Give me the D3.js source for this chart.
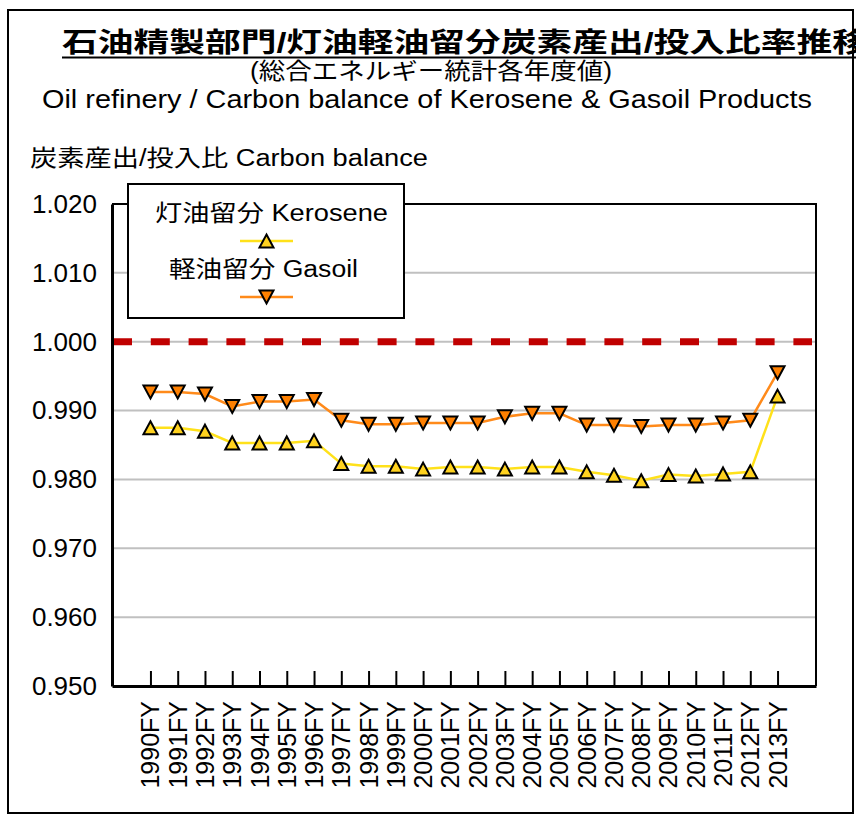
<!DOCTYPE html>
<html>
<head>
<meta charset="utf-8">
<script src="https://cdn.jsdelivr.net/npm/d3@7/dist/d3.min.js"></script>
<style>
  html, body { margin: 0; padding: 0; background: #fff; }
  svg { display: block; }
</style>
</head>
<body>
<script>
// Fiscal years on the category axis
const years = ["1990FY","1991FY","1992FY","1993FY","1994FY","1995FY","1996FY","1997FY",
  "1998FY","1999FY","2000FY","2001FY","2002FY","2003FY","2004FY","2005FY","2006FY",
  "2007FY","2008FY","2009FY","2010FY","2011FY","2012FY","2013FY"];

// Carbon output / input ratio, kerosene fraction
const kerosene = [0.9875, 0.9875, 0.9870, 0.9853, 0.9853, 0.9853, 0.9856, 0.9823,
  0.9819, 0.9819, 0.9815, 0.9818, 0.9818, 0.9815, 0.9818, 0.9818, 0.9811,
  0.9806, 0.9798, 0.9807, 0.9805, 0.9808, 0.9811, 0.9921];

// Carbon output / input ratio, gasoil fraction
const gasoil = [0.9927, 0.9927, 0.9924, 0.9906, 0.9913, 0.9913, 0.9916, 0.9886,
  0.9880, 0.9880, 0.9882, 0.9882, 0.9882, 0.9891, 0.9896, 0.9896, 0.9879,
  0.9879, 0.9877, 0.9879, 0.9879, 0.9882, 0.9886, 0.9955];

const yTicks = [0.950, 0.960, 0.970, 0.980, 0.990, 1.000, 1.010, 1.020];
const referenceLevel = 1.000;

const seriesNames = ["灯油留分 Kerosene", "軽油留分 Gasoil"];

const W = 856, H = 816;
const plot = { left: 112, right: 816, top: 204, bottom: 686 };

const svg = d3.select("body").append("svg")
  .attr("width", W).attr("height", H);

svg.append("rect").attr("width", W).attr("height", H).attr("fill", "#fff");

// Outer frame
svg.append("rect")
  .attr("x", 8).attr("y", 10).attr("width", 845).attr("height", 803)
  .attr("fill", "none").attr("stroke", "#000").attr("stroke-width", 2);

const mixed = "'Liberation Sans', 'Noto Sans CJK JP', sans-serif";

// Titles
svg.append("text")
  .attr("x", 62).attr("y", 52)
  .attr("font-family", mixed).attr("font-weight", "bold").attr("font-size", 27)
  .attr("textLength", 806).attr("lengthAdjust", "spacingAndGlyphs")
  .text("石油精製部門/灯油軽油留分炭素産出/投入比率推移");
svg.append("line")
  .attr("x1", 62).attr("x2", 856).attr("y1", 57.5).attr("y2", 57.5)
  .attr("stroke", "#000").attr("stroke-width", 2);

svg.append("text")
  .attr("x", 250).attr("y", 79)
  .attr("font-family", mixed).attr("font-size", 23)
  .attr("textLength", 362).attr("lengthAdjust", "spacingAndGlyphs")
  .text("(総合エネルギー統計各年度値)");

svg.append("text")
  .attr("x", 42).attr("y", 99)
  .attr("dominant-baseline", "central")
  .attr("font-family", "'Liberation Sans Narrow', 'Liberation Sans', sans-serif").attr("font-size", 26)
  .attr("textLength", 770).attr("lengthAdjust", "spacingAndGlyphs")
  .text("Oil refinery / Carbon balance of Kerosene & Gasoil Products");

svg.append("text")
  .attr("x", 30).attr("y", 158)
  .attr("dominant-baseline", "central")
  .attr("font-family", mixed).attr("font-size", 23)
  .attr("textLength", 398).attr("lengthAdjust", "spacingAndGlyphs")
  .text("炭素産出/投入比 Carbon balance");

// Scales
const x = d3.scalePoint().domain(years).range([plot.left, plot.right]).padding(1.41);
const y = d3.scaleLinear().domain([0.95, 1.02]).range([plot.bottom, plot.top]);

// Horizontal gridlines
svg.append("g").selectAll("line")
  .data(yTicks.filter(t => t > 0.95 && t < 1.02))
  .join("line")
  .attr("x1", plot.left).attr("x2", plot.right)
  .attr("y1", d => y(d)).attr("y2", d => y(d))
  .attr("stroke", "#c0c0c0").attr("stroke-width", 2);

// Reference line at 1.000
svg.append("line")
  .attr("x1", plot.left + 1).attr("x2", plot.right - 4)
  .attr("y1", y(referenceLevel)).attr("y2", y(referenceLevel))
  .attr("stroke", "#c00000").attr("stroke-width", 7)
  .attr("stroke-dasharray", "19 18.8");

// Plot border: top and right thin, axes thick
svg.append("path")
  .attr("d", `M${plot.left},${plot.top}H${plot.right}V${plot.bottom}`)
  .attr("fill", "none").attr("stroke", "#000").attr("stroke-width", 2);

// Y axis
const yAxis = d3.axisLeft(y).tickValues(yTicks).tickSize(0).tickPadding(15)
  .tickFormat(d3.format(".3f"));
const gy = svg.append("g").attr("transform", `translate(${plot.left},0)`).call(yAxis);
gy.select(".domain").attr("stroke", "#000").attr("stroke-width", 3);
gy.selectAll("text")
  .attr("font-family", "'Liberation Sans', sans-serif").attr("font-size", 26)
  .attr("fill", "#000");

// X axis with inward ticks
const xAxis = d3.axisBottom(x).tickSize(-15).tickSizeOuter(0).tickFormat("");
const gx = svg.append("g").attr("transform", `translate(0,${plot.bottom})`).call(xAxis);
gx.select(".domain").attr("stroke", "#000").attr("stroke-width", 3);
gx.selectAll(".tick line").attr("stroke", "#000").attr("stroke-width", 2);

// Rotated category labels
svg.append("g").selectAll("text")
  .data(years)
  .join("text")
  .attr("transform", d => `translate(${x(d)},701) rotate(-90)`)
  .attr("text-anchor", "end")
  .attr("dy", "0.36em")
  .attr("font-family", "'Liberation Sans', sans-serif").attr("font-size", 25)
  .attr("fill", "#000")
  .text(d => d);

// Triangle markers, centred on their bounding box
const mw = 14, mh = 13;
const triUp = `M0,${-mh/2}L${mw/2},${mh/2}L${-mw/2},${mh/2}Z`;
const triDown = `M0,${mh/2}L${mw/2},${-mh/2}L${-mw/2},${-mh/2}Z`;

const series = [
  { name: seriesNames[0], values: kerosene, line: "#ffe11a", fill: "#ffd21f", shape: triUp },
  { name: seriesNames[1], values: gasoil, line: "#ff8a1a", fill: "#ff8000", shape: triDown }
];

const lineGen = d3.line().x((d, i) => x(years[i])).y(d => y(d));

series.forEach(s => {
  svg.append("path")
    .attr("d", lineGen(s.values))
    .attr("fill", "none").attr("stroke", s.line).attr("stroke-width", 2.5);
});
series.forEach(s => {
  svg.append("g").selectAll("path")
    .data(s.values)
    .join("path")
    .attr("transform", (d, i) => `translate(${x(years[i])},${y(d)})`)
    .attr("d", s.shape)
    .attr("fill", s.fill).attr("stroke", "#000").attr("stroke-width", 2)
    .attr("stroke-linejoin", "miter");
});

// Legend
const lg = svg.append("g");
lg.append("rect")
  .attr("x", 128).attr("y", 184).attr("width", 276).attr("height", 134)
  .attr("fill", "#fff").attr("stroke", "#000").attr("stroke-width", 2);

const legendRows = [
  { s: series[0], tx: 155, tw: 233, ty: 213, my: 241 },
  { s: series[1], tx: 169, tw: 189, ty: 269, my: 297 }
];
legendRows.forEach(r => {
  lg.append("text")
    .attr("x", r.tx).attr("y", r.ty)
    .attr("dominant-baseline", "central")
    .attr("font-family", mixed).attr("font-size", 23)
    .attr("textLength", r.tw).attr("lengthAdjust", "spacingAndGlyphs")
    .text(r.s.name);
  lg.append("line")
    .attr("x1", 240).attr("x2", 293).attr("y1", r.my).attr("y2", r.my)
    .attr("stroke", r.s.line).attr("stroke-width", 2.5);
  lg.append("path")
    .attr("transform", `translate(266.5,${r.my})`)
    .attr("d", r.s.shape)
    .attr("fill", r.s.fill).attr("stroke", "#000").attr("stroke-width", 2);
});
</script>
</body>
</html>
